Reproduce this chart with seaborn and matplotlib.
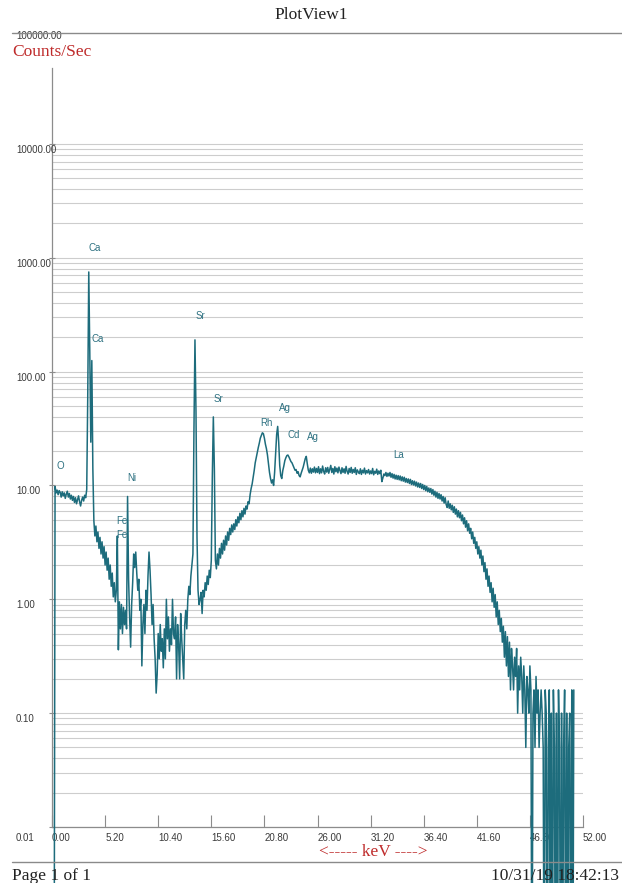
import numpy as np
import pandas as pd
import matplotlib
matplotlib.use("Agg")
import matplotlib.pyplot as plt
import matplotlib.ticker as mticker
import matplotlib.transforms as mtrans
from matplotlib.lines import Line2D
import seaborn as sns

# spectrum: one value per 0.1 keV channel, counts/sec (0 = no counts)
kev_step = 0.1
cps = [
    0, 0, 0, 9.8, 8.6, 9.1, 8.3, 9.0, 8.7, 7.9,             # 0 keV
    8.8, 8.1, 8.6, 7.7, 8.4, 8.9, 7.9, 8.5, 7.6, 8.2,
    7.4, 8.0, 7.1, 7.8, 6.9, 7.5, 8.1, 7.2, 6.6, 7.4,
    7.9, 7.3, 8.2, 7.8, 9.2, 60, 750, 150, 24, 125,
    14, 4.9, 3.6, 4.4, 3.2, 3.9, 2.8, 3.5, 2.5, 3.2,
    2.3, 2.9, 2.0, 2.6, 1.8, 2.3, 1.5, 2.0, 1.3, 1.7,       # 5 keV
    1.05, 1.4, 0.95, 1.2, 3.6, 0.36, 0.95, 0.55, 0.9, 0.5,
    0.85, 0.6, 0.8, 0.55, 8.0, 1.5, 0.7, 0.38, 0.9, 1.4,
    2.5, 1.9, 2.6, 1.7, 1.2, 1.5, 0.8, 1.0, 0.26, 0.6,
    0.9, 0.5, 1.2, 0.8, 1.6, 2.6, 1.8, 1.1, 0.6, 0.9,
    0.45, 0.3, 0.15, 0.22, 0.5, 0.3, 0.6, 0.35, 0.45, 0.25,  # 10 keV
    0.55, 0.3, 1.0, 0.45, 0.7, 0.35, 0.55, 0.4, 1.0, 0.5,
    0.45, 0.7, 0.2, 0.6, 0.4, 0.2, 0.75, 0.45, 0.3, 0.2,
    0.6, 0.8, 0.55, 1.0, 1.3, 1.1, 1.6, 2.0, 2.5, 30,
    190, 45, 3.5, 1.2, 0.9, 1.0, 1.15, 0.75, 1.2, 1.05,
    1.4, 1.2, 1.6, 1.35, 1.8, 1.55, 2.2, 12, 40, 14,        # 15 keV
    2.2, 1.85, 2.5, 2.0, 2.8, 2.3, 3.1, 2.5, 3.3, 2.7,
    3.6, 3.0, 3.9, 3.3, 4.2, 3.7, 4.5, 3.9, 4.6, 4.1,
    5.0, 4.4, 5.3, 4.7, 5.7, 5.0, 6.0, 5.3, 6.3, 5.6,
    6.6, 6.2, 7.2, 6.9, 8.3, 9.4, 10.3, 11.8, 13.5, 15.8,
    17.5, 19.5, 21.5, 23.5, 26, 27.5, 29, 28.5, 26, 23,     # 20 keV
    21, 18.5, 15.5, 13, 11.5, 10.5, 11.2, 10.0, 13, 19,
    28, 33, 24, 15, 12.2, 11.5, 13.5, 14.8, 16.5, 17.5,
    18.3, 18.5, 17.8, 17.0, 16.2, 15.8, 15.0, 14.2, 13.6, 13.8,
    12.8, 13.2, 12.2, 11.9, 12.8, 13.6, 14.5, 15.8, 17.2, 18.0,
    15.5, 13.6, 12.9, 14.2, 12.8, 14.0, 13.1, 14.5, 12.9, 14.1,  # 25 keV
    13.0, 14.6, 12.7, 14.0, 12.9, 14.8, 13.3, 12.6, 14.3, 13.1,
    14.4, 12.8, 13.9, 15.0, 13.0, 14.1, 12.6, 14.6, 13.2, 14.2,
    12.9, 14.5, 13.5, 12.7, 14.3, 13.0, 14.0, 12.8, 14.7, 13.3,
    12.6, 14.1, 13.0, 14.4, 12.8, 13.8, 13.0, 14.3, 12.5, 13.7,
    13.1, 12.7, 14.0, 12.5, 13.6, 12.9, 14.2, 12.6, 13.5, 12.9,  # 30 keV
    13.8, 12.6, 13.4, 12.7, 14.1, 12.4, 13.3, 12.8, 13.9, 12.5,
    13.4, 12.7, 13.6, 10.8, 11.6, 12.6, 12.2, 13.0, 12.0, 12.8,
    12.1, 13.0, 11.8, 12.7, 11.6, 12.5, 11.4, 12.3, 11.3, 12.2,
    11.2, 12.1, 11.0, 11.9, 10.9, 11.8, 10.7, 11.5, 10.6, 11.4,
    10.4, 11.3, 10.2, 11.0, 10.1, 10.9, 9.9, 10.7, 9.7, 10.5,    # 35 keV
    9.6, 10.4, 9.4, 10.2, 9.2, 10.0, 9.0, 9.8, 8.8, 9.5,
    8.7, 9.4, 8.4, 9.2, 8.2, 8.9, 7.9, 8.7, 7.7, 8.5,
    7.6, 8.3, 7.3, 8.0, 7.0, 7.8, 6.8, 6.4, 7.3, 6.3,
    6.9, 6.1, 6.7, 5.8, 6.5, 5.6, 6.2, 5.3, 6.0, 5.2,
    5.8, 4.9, 5.5, 4.6, 5.2, 4.3, 4.9, 4.0, 4.6, 3.8,       # 40 keV
    4.2, 3.4, 3.9, 3.1, 3.5, 2.8, 3.2, 2.5, 2.9, 2.3,
    2.7, 2.0, 2.4, 1.75, 2.1, 1.5, 1.85, 1.3, 1.6, 1.15,
    1.4, 0.95, 1.25, 0.85, 1.1, 0.7, 0.95, 0.6, 0.8, 0.52,
    0.68, 0.42, 0.58, 0.31, 0.52, 0.26, 0.47, 0.21, 0.42, 0.16,
    0.37, 0.26, 0.16, 0.31, 0.21, 0.37, 0.1, 0.26, 0.16, 0.31,  # 45 keV
    0.21, 0.1, 0.26, 0.16, 0.05, 0.21, 0.16, 0.1, 0.26, 0.16,
    0, 0.1, 0.16, 0.05, 0.21, 0.1, 0.16, 0.05, 0.1, 0.16,
    0.1, 0.05, 0, 0.16, 0.1, 0, 0.05, 0.16, 0, 0.1,
    0, 0.16, 0.05, 0, 0.1, 0, 0.16, 0.05, 0, 0.1,
    0, 0.05, 0.16, 0, 0.1, 0, 0.05, 0.1, 0, 0.16,           # 50 keV
    0, 0.16,
]

# element markers
peak_names = ["O", "Ca", "Ca", "Ni", "Fe", "Fe", "Sr", "Sr", "Rh", "Ag", "Cd", "Ag", "La"]
peak_kev = [0.8, 4.2, 4.5, 7.85, 6.85, 6.85, 14.5, 16.3, 21.0, 22.85, 23.65, 25.6, 33.9]
peak_cps = [14.7, 1210, 193, 11.6, 4.85, 3.65, 307, 58, 35, 47.7, 27.6, 26.5, 18.4]

x_ticks = [0, 5.2, 10.4, 15.6, 20.8, 26.0, 31.2, 36.4, 41.6, 46.8, 52.0]
x_tick_labels = ["0.00", "5.20", "10.40", "15.60", "20.80", "26.00",
                 "31.20", "36.40", "41.60", "46.80", "52.00"]
y_decades = [0.01, 0.1, 1, 10, 100, 1000, 10000, 100000]
y_labels = ["0.01", "0.10", "1.00", "10.00", "100.00", "1000.00", "10000.00", "100000.00"]

teal = "#1d6c7c"
red = "#bf2b2b"
grey = "#8c8c8c"

sns.set_theme(style="white")
plt.rcParams["font.family"] = ["Liberation Sans", "DejaVu Sans"]

W, H = 622, 883
fig = plt.figure(figsize=(W / 100, H / 100), dpi=100)
ax = fig.add_axes([52 / W, 1 - 827 / H, (583 - 52) / W, (827 - 68) / H])

kev = np.round(np.arange(len(cps)) * kev_step, 1)
vals = np.array(cps, dtype=float)
df = pd.DataFrame({"keV": kev, "cps": np.where(vals > 0, vals, 1e-4)})

sns.lineplot(data=df, x="keV", y="cps", ax=ax, color=teal, linewidth=1.1,
             estimator=None, clip_on=False, zorder=3)

ax.set_yscale("log")
ax.set_xlim(0, 52)
ax.set_ylim(0.01, 46400)
ax.set_xlabel("")
ax.set_ylabel("")

# horizontal grid at every 1..9 x decade up to 10000
minors = [k * 10.0 ** n for n in range(-2, 4) for k in range(2, 10)]
ax.yaxis.set_major_locator(mticker.FixedLocator(y_decades[:-1]))
ax.yaxis.set_minor_locator(mticker.FixedLocator(minors))
ax.yaxis.set_major_formatter(mticker.NullFormatter())
ax.yaxis.set_minor_formatter(mticker.NullFormatter())
ax.grid(which="both", axis="y", color="#cdcdcd", linewidth=0.8, zorder=0)
ax.grid(False, axis="x")
ax.tick_params(axis="y", which="major", direction="inout", length=5, color=grey, width=0.8, left=True)
ax.tick_params(axis="y", which="minor", length=0)

ax.set_xticks(x_ticks)
ax.set_xticklabels(x_tick_labels, ha="left", fontsize=7, color="#3a3a3a")
ax.tick_params(axis="x", direction="in", length=9, color=grey, width=0.8, pad=4, bottom=True)

for side in ["top", "right"]:
    ax.spines[side].set_visible(False)
for side in ["left", "bottom"]:
    ax.spines[side].set_color(grey)
    ax.spines[side].set_linewidth(0.9)

# y labels sit left-aligned at the page margin, a little below their line
ytrans = mtrans.blended_transform_factory(fig.transFigure, ax.transData)
for val, lab in zip(y_decades, y_labels):
    dy = -11 if val == 0.01 else -6
    tr = mtrans.offset_copy(ytrans, fig=fig, x=0, y=dy * 72 / 100, units="points")
    ax.text(16 / W, val, lab, transform=tr, ha="left", va="center",
            fontsize=7, color="#3a3a3a", clip_on=False)

for name, xk, yc in zip(peak_names, peak_kev, peak_cps):
    ax.text(xk, yc, name, ha="center", va="center", fontsize=7, color="#2f7282", zorder=4)

# page furniture
serif = ["Liberation Serif", "DejaVu Serif"]
fig.text(0.5, 1 - 15 / H, "PlotView1", ha="center", va="center", fontsize=12.5,
         family=serif, color="#222222")
fig.add_artist(Line2D([12 / W, 1], [1 - 33 / H] * 2, color="#8a8a8a", lw=1))
fig.text(12 / W, 1 - 52 / H, "Counts/Sec", ha="left", va="center", fontsize=12.5,
         family=serif, color=red)
fig.text(373 / W, 1 - 852 / H, "<----- keV ---->", ha="center", va="center", fontsize=12.5,
         family=serif, color=red)
fig.add_artist(Line2D([12 / W, 1], [1 - 862 / H] * 2, color="#8a8a8a", lw=1))
fig.text(12 / W, 1 - 876 / H, "Page 1 of 1", ha="left", va="center", fontsize=12.5,
         family=serif, color="#222222")
fig.text(619 / W, 1 - 876 / H, "10/31/19 18:42:13", ha="right", va="center", fontsize=12.5,
         family=serif, color="#222222")

fig.savefig("out.png", dpi=100, facecolor="white")
